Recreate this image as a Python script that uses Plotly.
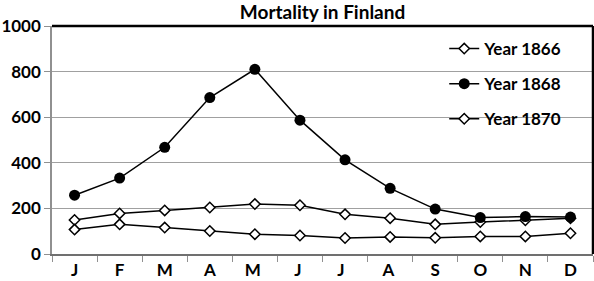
import plotly.graph_objects as go

months = ["J", "F", "M", "A", "M ", "J ", "J  ", "A ", "S", "O", "N", "D"]
year_1866 = [149, 178, 191, 204, 219, 214, 174, 157, 130, 140, 148, 157]
year_1868 = [258, 333, 468, 686, 810, 587, 413, 288, 197, 160, 164, 162]
year_1870 = [107, 130, 116, 101, 87, 81, 70, 75, 71, 77, 77, 91]
y_ticks = [0, 200, 400, 600, 800, 1000]

FONT = "Lato"

fig = go.Figure()
fig.add_trace(go.Scatter(
    x=months, y=year_1866, name="<b>Year 1866</b>", mode="lines+markers", legendgroup="a",
    line=dict(color="black", width=1.5),
    marker=dict(symbol="diamond", size=8, color="white", line=dict(color="black", width=1.5)),
))
fig.add_trace(go.Scatter(
    x=months, y=year_1868, name="<b>Year 1868</b>", mode="lines+markers", legendgroup="b",
    line=dict(color="black", width=1.5),
    marker=dict(symbol="circle", size=11, color="black"),
))
fig.add_trace(go.Scatter(
    x=months, y=year_1870, name="<b>Year 1870</b>", mode="lines+markers", legendgroup="c",
    line=dict(color="black", width=1.5),
    marker=dict(symbol="diamond", size=8, color="white", line=dict(color="black", width=1.5)),
))

fig.update_layout(
    width=594, height=281,
    margin=dict(l=52, r=1, t=26, b=27),
    paper_bgcolor="white", plot_bgcolor="white",
    title=dict(text="<b>Mortality in Finland</b>", x=0.543, xanchor="center", y=0.955, yanchor="middle",
               font=dict(family=FONT, size=19, color="black")),
    font=dict(family=FONT, size=17, color="black"),
    showlegend=True,
    legend=dict(x=0.725, y=0.978, xanchor="left", yanchor="top", bgcolor="rgba(0,0,0,0)",
                font=dict(family=FONT, size=17, color="black"), tracegroupgap=10,
                itemwidth=30),
    xaxis=dict(
        type="category", categoryorder="array", categoryarray=months,
        showgrid=False, showline=True, linecolor="#707070", linewidth=2,
        ticks="outside", tickson="boundaries", ticklen=6, tickcolor="#909090", tickwidth=1,
        tickfont=dict(family=FONT, size=17, color="black", weight="bold"),
        range=[-0.5, 11.5],
    ),
    yaxis=dict(
        range=[0, 1000], tickvals=y_ticks,
        showgrid=True, gridcolor="#a0a0a0", gridwidth=1,
        showline=True, linecolor="#909090", linewidth=1.5,
        ticks="outside", ticklen=6, tickcolor="#909090",
        tickfont=dict(family=FONT, size=17, color="black", weight="bold"),
        zeroline=False,
    ),
    shapes=[
        dict(type="line", xref="paper", yref="paper", x0=0, x1=1, y0=1, y1=1,
             line=dict(color="black", width=2.5)),
        dict(type="line", xref="paper", yref="paper", x0=1, x1=1, y0=0, y1=1,
             line=dict(color="black", width=2.5)),
    ],
)

fig.write_html("out.html", config={"displayModeBar": False},
               post_script="document.body.style.margin='0px';")
